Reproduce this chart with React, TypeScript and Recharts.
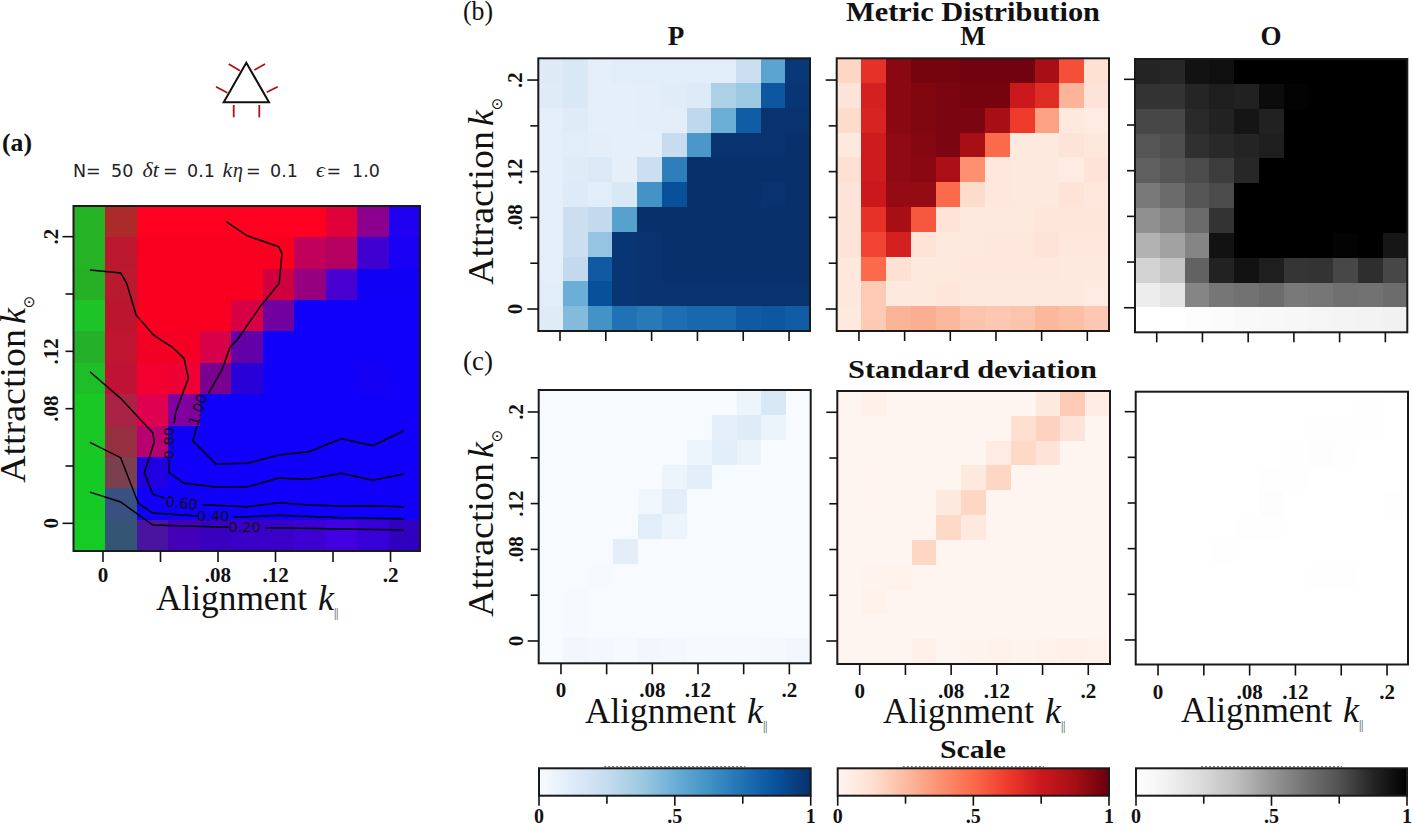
import React from "react";
import { ScatterChart, Scatter, XAxis, YAxis, ReferenceLine } from "recharts";

// ---- tick values
const kTicks = [0, 0.04, 0.08, 0.12, 0.16, 0.2];
const kTickLabels: Record<string, string> = { "0": "0", "0.08": ".08", "0.12": ".12", "0.2": ".2" };
const scaleTicks = [0, 0.25, 0.5, 0.75, 1];
const scaleLabels: Record<string, string> = { "0": "0", "0.5": ".5", "1": "1" };

// ---- panel (b) metric means, rows from the top (k=.2 side) to the bottom
const meanP = [
  [.125,.15,.09,.11,.11,.11,.11,.11,.22,.55,.97],
  [.12,.15,.09,.09,.10,.115,.13,.33,.38,.85,.98],
  [.09,.12,.09,.09,.10,.10,.27,.50,.83,.99,.99],
  [.09,.11,.10,.09,.09,.24,.60,.99,.99,.99,1],
  [.09,.12,.14,.09,.22,.70,1,1,1,1,1],
  [.09,.13,.11,.15,.62,.88,1,1,1,.99,1],
  [.09,.22,.26,.56,1,1,1,1,1,1,1],
  [.09,.22,.40,.98,.99,1,1,1,1,1,1],
  [.09,.26,.84,.98,.99,1,1,1,1,1,1],
  [.11,.50,.88,.98,.99,.99,.99,.99,.99,.99,.99],
  [.12,.44,.62,.75,.72,.76,.79,.79,.84,.85,.83],
];
const meanM = [
  [.16,.66,.93,.97,.97,.98,.98,.98,.87,.57,.12],
  [.10,.72,.93,.95,.96,.97,.97,.75,.68,.27,.10],
  [.14,.71,.93,.95,.96,.96,.87,.63,.33,.07,.06],
  [.07,.74,.92,.94,.96,.87,.50,.07,.07,.10,.08],
  [.12,.74,.92,.93,.86,.38,.08,.07,.07,.06,.10],
  [.10,.75,.91,.91,.50,.14,.08,.07,.07,.11,.08],
  [.10,.66,.87,.55,.10,.07,.07,.07,.09,.09,.09],
  [.10,.60,.72,.11,.07,.07,.08,.08,.10,.08,.08],
  [.08,.50,.12,.07,.07,.08,.08,.08,.08,.07,.07],
  [.08,.20,.07,.07,.09,.07,.07,.07,.07,.07,.06],
  [.07,.20,.27,.29,.26,.22,.21,.22,.26,.24,.21],
];
const meanO = [
  [.88,.87,.94,.95,1,1,1,1,1,1,1],
  [.835,.835,.875,.90,.89,.96,.99,1,1,1,1],
  [.78,.78,.86,.885,.93,.89,1,1,1,1,1],
  [.74,.76,.845,.865,.88,.90,1,1,1,1,1],
  [.70,.735,.77,.81,.87,1,1,1,1,1,1],
  [.605,.655,.735,.77,1,1,1,1,1,1,1],
  [.52,.57,.655,.835,1,1,1,1,1,1,1],
  [.41,.46,.56,.94,1,1,1,1,.99,1,.925],
  [.28,.34,.69,.885,.94,.90,.83,.835,.78,.85,.78],
  [.14,.185,.56,.615,.63,.65,.605,.615,.635,.63,.65],
  [0,0,.02,.03,.05,.06,.07,.08,.09,.10,.12],
];

// ---- panel (c) standard deviations
const stdP = [
  [0,0,0,0,0,0,0,0,.05,.15,0],
  [0,0,0,0,0,0,0,.09,.12,.06,0],
  [0,0,0,0,0,0,.05,.11,.06,0,0],
  [0,0,0,0,0,.05,.10,0,0,0,0],
  [0,0,0,0,.04,.10,0,0,0,0,0],
  [0,0,0,0,.11,.05,0,0,0,0,0],
  [0,0,0,.10,0,0,0,0,0,0,0],
  [0,0,.01,0,0,0,0,0,0,0,0],
  [0,.005,0,0,0,0,0,0,0,0,0],
  [0,.01,0,0,0,0,0,0,0,0,0],
  [0,.03,.02,.01,.03,.02,.005,.01,.005,.015,.03],
];
const stdM = [
  [0,.03,0,0,0,0,0,0,.07,.20,.05],
  [0,0,0,0,0,0,0,.13,.17,.10,0],
  [0,0,0,0,0,0,.06,.15,.10,0,0],
  [0,.005,0,0,0,.07,.16,0,0,0,0],
  [0,.005,0,0,.07,.16,0,0,0,0,0],
  [0,0,0,0,.15,.07,0,0,0,.005,0],
  [0,0,0,.16,0,0,0,0,0,0,0],
  [0,.01,.02,0,0,0,0,0,0,0,0],
  [0,.02,0,0,0,0,0,0,0,0,0],
  [0,0,0,0,0,0,0,0,0,0,0],
  [0,0,0,.03,0,.01,.02,.01,.02,.03,.02],
];
const stdO = [
  [0,0,0,0,0,0,0,0,.003,.005,0],
  [0,0,0,0,0,0,0,.01,.01,.006,0],
  [0,0,0,0,0,0,.007,.015,.008,0,0],
  [0,0,0,0,0,.007,.012,0,0,0,0],
  [0,0,0,0,.003,.015,0,0,0,0,.006],
  [0,0,0,0,.012,.007,0,0,0,0,.002],
  [0,0,0,.006,0,0,0,0,0,0,0],
  [0,0,0,0,0,0,0,.005,.005,0,0],
  [0,0,0,0,0,.003,0,0,0,0,.001],
  [0,0,0,0,0,0,0,.002,0,0,0],
  [0,0,0,0,0,0,0,0,0,0,0],
];

// ---- panel (a) colour channels, 0-255
const compositeR = [
  [37,173,255,255,255,255,255,255,224,140,32],
  [37,187,250,250,250,250,250,192,181,64,24],
  [37,184,250,250,250,250,208,150,72,16,16],
  [28,187,250,250,250,216,112,16,16,16,16],
  [37,192,243,245,216,100,16,16,16,16,16],
  [30,192,243,238,122,42,16,16,16,20,16],
  [25,170,224,128,16,16,16,16,16,16,16],
  [25,150,184,16,16,16,16,16,16,16,16],
  [22,122,32,16,16,16,16,16,16,16,16],
  [22,58,16,16,16,16,16,16,16,16,16],
  [20,53,74,68,58,58,58,60,64,56,48],
];
const compositeG = [
  [179,42,0,0,0,0,0,0,0,0,0],
  [179,24,0,0,0,0,0,0,0,0,0],
  [176,26,0,0,0,0,0,0,0,0,0],
  [196,21,0,0,0,0,0,0,0,0,0],
  [176,21,0,0,0,0,0,0,0,0,0],
  [190,18,0,0,0,0,0,0,0,0,0],
  [200,34,0,0,0,0,0,0,0,0,0],
  [200,48,0,0,0,0,0,0,0,0,0],
  [202,64,0,0,0,0,0,0,0,0,0],
  [202,80,0,0,0,0,0,0,0,0,0],
  [204,85,20,0,0,0,0,0,0,0,0],
];
const compositeB = [
  [37,42,32,32,32,32,32,32,58,144,240],
  [37,48,32,32,32,32,32,90,96,208,245],
  [37,48,32,32,32,32,64,128,208,245,245],
  [40,48,32,32,32,69,160,250,250,250,250],
  [42,48,37,37,72,168,250,250,250,250,250],
  [40,53,48,53,144,216,250,250,250,245,250],
  [37,69,80,160,250,250,250,250,250,250,250],
  [37,64,112,248,250,250,250,250,250,250,250],
  [37,80,224,250,250,250,250,250,250,250,250],
  [37,128,250,250,250,250,250,250,250,250,250],
  [37,117,160,184,192,200,200,208,224,216,192],
];

// ---- contours of panel (a): [k_parallel, k_attraction]
const c100a = [[.0857,.2105],[.1001,.2007],[.1222,.1930],[.1245,.1884],[.1226,.1675],[.1094,.1512],[.1045,.1442],[.0934,.1279],[.0885,.1232],[.0827,.1070],[.0734,.0907]];
const c100b = [[.0653,.0679],[.0625,.0576],[.0785,.0414],[.1006,.0419],[.1222,.0477],[.1431,.0500],[.1657,.0590],[.1877,.0542],[.2093,.0646]];
const c080a = [[-.0091,.1768],[.0123,.1747],[.0165,.1675],[.0230,.1454],[.0346,.1319],[.0404,.1279],[.0479,.1232],[.0564,.1151],[.0594,.1012],[.0507,.0779],[.0495,.0698]];
const c080b = [[.0462,.0447],[.0460,.0353],[.0564,.0279],[.0785,.0253],[.1006,.0255],[.1222,.0316],[.1431,.0307],[.1657,.0349],[.1877,.0300],[.2093,.0344]];
const c060a = [[-.0091,.1058],[.0123,.0872],[.0346,.0632],[.0357,.0569],[.0288,.0353],[.0346,.0204],[.0437,.0174]];
const c060b = [[.0692,.0130],[.1006,.0116],[.1222,.0144],[.1431,.0128],[.1657,.0121],[.1877,.0123],[.2093,.0116]];
const c040a = [[-.0091,.0565],[.0123,.0458],[.0246,.0140],[.0346,.0072],[.0657,.0051]];
const c040b = [[.0908,.0044],[.1006,.0046],[.1222,.0056],[.1657,.0039],[.2093,.0032]];
const c020a = [[-.0091,.0218],[.0123,.0149],[.0346,-.0012],[.0873,-.0028]];
const c020b = [[.1129,-.0033],[.1222,-.0031],[.1657,-.0040],[.2093,-.0047]];
const contourSegments = [c100a, c100b, c080a, c080b, c060a, c060b, c040a, c040b, c020a, c020b];
const contourLabels = [
  { x: .066, y: .0792, text: "1.00", angle: -72 },
  { x: .0462, y: .056, text: "0.80", angle: -90 },
  { x: .0548, y: .014, text: "0.60", angle: 6 },
  { x: .0767, y: .0053, text: "0.40", angle: 0 },
  { x: .0985, y: -.0028, text: "0.20", angle: 0 },
];

// ---- colour maps
const BLUES = ["#f7fbff","#deebf7","#c6dbef","#9ecae1","#6baed6","#4292c6","#2171b5","#08519c","#08306b"];
const REDS = ["#fff5f0","#fee0d2","#fcbba1","#fc9272","#fb6a4a","#ef3b2c","#cb181d","#a50f15","#67000d"];
const GREYS = ["#ffffff","#f0f0f0","#d9d9d9","#bdbdbd","#969696","#737373","#525252","#252525","#000000"];

const hex = (s: string) => [1, 3, 5].map((i) => parseInt(s.slice(i, i + 2), 16));
function cmap(stops: string[], v: number) {
  const t = Math.max(0, Math.min(1, v)) * (stops.length - 1);
  const i = Math.min(Math.floor(t), stops.length - 2);
  const a = hex(stops[i]);
  const b = hex(stops[i + 1]);
  const f = t - i;
  return `rgb(${a.map((c, j) => Math.round(c + (b[j] - c) * f)).join(",")})`;
}

const SERIF = "'Liberation Serif', serif";
const SANS = "'DejaVu Sans', sans-serif";
const INK = "#111";

type Frame = { x0: number; x1: number; y0: number; y1: number };

function Panel(props: {
  frame: Frame;
  xDomain: [number, number];
  yDomain: [number, number];
  colour: (row: number, col: number) => string;
  xLabels?: boolean;
  yLabels?: boolean;
  labelGapX: number;
  labelGapY: number;
  xTick: number;
  yMajor: number;
  yMinor: number;
  children?: React.ReactNode;
}) {
  const { frame, xDomain, yDomain, colour } = props;
  const left = Math.floor(frame.x0) - 64;
  const top = Math.floor(frame.y0) - 8;
  const width = Math.ceil(frame.x1) + 16 - left;
  const height = Math.ceil(frame.y1) + 48 - top;
  const W = frame.x1 - frame.x0;
  const H = frame.y1 - frame.y0;
  const cw = W / 11;
  const ch = H / 11;
  const cells: { x: number; y: number; color: string }[] = [];
  for (let r = 0; r < 11; r++)
    for (let c = 0; c < 11; c++)
      cells.push({
        x: xDomain[0] + ((c + 0.5) * (xDomain[1] - xDomain[0])) / 11,
        y: yDomain[1] - ((r + 0.5) * (yDomain[1] - yDomain[0])) / 11,
        color: colour(r, c),
      });
  const middle = [{ x: (xDomain[0] + xDomain[1]) / 2, y: (yDomain[0] + yDomain[1]) / 2 }];
  const xTickFn = (p: any) => (
    <g>
      <line x1={p.x} x2={p.x} y1={p.y} y2={p.y + props.xTick} stroke={INK} strokeWidth={1.6} />
      {props.xLabels && kTickLabels[String(p.payload.value)] ? (
        <text x={p.x} y={p.y + props.labelGapX} textAnchor="middle" dominantBaseline="central" fontFamily={SERIF} fontWeight={700} fontSize={21} fill={INK}>
          {kTickLabels[String(p.payload.value)]}
        </text>
      ) : null}
    </g>
  );
  const yTickFn = (p: any) => {
    const v = p.payload.value;
    const len = v === 0 || v === 0.2 ? props.yMajor : props.yMinor;
    const label = kTickLabels[String(v)];
    return (
      <g>
        <line x1={p.x - len} x2={p.x} y1={p.y} y2={p.y} stroke={INK} strokeWidth={1.6} />
        {props.yLabels && label ? (
          <text transform={`translate(${p.x - props.labelGapY},${p.y}) rotate(-90)`} textAnchor="middle" dominantBaseline="central" fontFamily={SERIF} fontWeight={700} fontSize={21} fill={INK}>
            {label}
          </text>
        ) : null}
      </g>
    );
  };
  return (
    <div style={{ position: "absolute", left, top, width, height }}>
      <ScatterChart
        width={width}
        height={height}
        margin={{ left: 0, top: frame.y0 - top, right: left + width - frame.x1, bottom: 0 }}
      >
        <XAxis dataKey="x" type="number" domain={xDomain} ticks={kTicks} interval={0} height={top + height - frame.y1} tickLine={false} tickSize={0} tickMargin={0} tick={xTickFn} axisLine={false} />
        <YAxis dataKey="y" type="number" domain={yDomain} ticks={kTicks} interval={0} width={frame.x0 - left} tickLine={false} tickSize={0} tickMargin={0} tick={yTickFn} axisLine={false} />
        <Scatter
          data={cells}
          isAnimationActive={false}
          shape={(p: any) => (
            <rect x={p.cx - cw / 2} y={p.cy - ch / 2} width={cw + 0.02} height={ch + 0.02} fill={p.payload.color} shapeRendering="crispEdges" />
          )}
        />
        {props.children}
        <Scatter
          data={middle}
          isAnimationActive={false}
          shape={(p: any) => (
            <rect x={p.cx - W / 2} y={p.cy - H / 2} width={W} height={H} fill="none" stroke="#1a1a1a" strokeWidth={2} />
          )}
        />
      </ScatterChart>
    </div>
  );
}

const barCentre = [{ x: 0.5, y: 0.5 }];

function ScaleBar(props: { x0: number; x1: number; id: string; stops: string[] }) {
  const { x0, x1, id, stops } = props;
  const y0 = 768.3;
  const y1 = 795.7;
  const left = Math.floor(x0) - 12;
  const top = 760;
  const width = Math.ceil(x1) + 12 - left;
  const height = 827 - top;
  const W = x1 - x0;
  const H = y1 - y0;
  const tickFn = (p: any) => {
    const label = scaleLabels[String(p.payload.value)];
    return (
      <g>
        <line x1={p.x} x2={p.x} y1={p.y} y2={p.y + (label ? 10 : 8)} stroke={INK} strokeWidth={1.6} />
        {label ? (
          <text x={p.x} y={p.y + 27} textAnchor="middle" fontFamily={SERIF} fontWeight={700} fontSize={20} fill={INK}>
            {label}
          </text>
        ) : null}
      </g>
    );
  };
  return (
    <div style={{ position: "absolute", left, top, width, height }}>
      <ScatterChart width={width} height={height} margin={{ left: 0, top: y0 - top, right: left + width - x1, bottom: 0 }}>
        <defs>
          <linearGradient id={id} x1="0" x2="1" y1="0" y2="0">
            {stops.map((s, i) => (
              <stop key={s} offset={i / (stops.length - 1)} stopColor={s} />
            ))}
          </linearGradient>
        </defs>
        <XAxis dataKey="x" type="number" domain={[0, 1]} ticks={scaleTicks} interval={0} height={top + height - y1} tickLine={false} tickSize={0} tickMargin={0} tick={tickFn} axisLine={false} />
        <YAxis dataKey="y" type="number" domain={[0, 1]} width={x0 - left} tick={false} tickLine={false} axisLine={false} />
        <Scatter
          data={barCentre}
          isAnimationActive={false}
          shape={(p: any) => (
            <rect x={p.cx - W / 2} y={p.cy - H / 2} width={W} height={H} fill={`url(#${id})`} stroke="#1a1a1a" strokeWidth={2} />
          )}
        />
        <ReferenceLine segment={[{ x: 0.24, y: 1.06 }, { x: 0.76, y: 1.06 }]} ifOverflow="visible" stroke="#555" strokeWidth={1} strokeDasharray="2 2" />
      </ScatterChart>
    </div>
  );
}

function Attraction({ x, y }: { x: number; y: number }) {
  return (
    <g fill={INK} fontFamily={SERIF}>
      <text transform={`translate(${x},${y}) rotate(-90)`} fontSize={36} textLength={154} lengthAdjust="spacingAndGlyphs">Attraction</text>
      <text transform={`translate(${x},${y - 159}) rotate(-90)`} fontSize={36} fontStyle="italic">k</text>
      <text transform={`translate(${x + 4},${y - 181}) rotate(-90)`} fontSize={15} fontFamily={SANS} textAnchor="middle" dominantBaseline="central">⊙</text>
    </g>
  );
}
function Alignment({ x, y }: { x: number; y: number }) {
  return (
    <g fill={INK} fontFamily={SERIF}>
      <text x={x} y={y} fontSize={36} textLength={151} lengthAdjust="spacingAndGlyphs">Alignment</text>
      <text x={x + 162} y={y} fontSize={36} fontStyle="italic">k</text>
      <text x={x + 180} y={y + 7} fontSize={12} textAnchor="middle" letterSpacing={-0.5} style={{ opacity: 0.85 }}>||</text>
    </g>
  );
}
function Bold({ x, y, size, w, anchor, children }: any) {
  return (
    <text x={x} y={y} fontSize={size} fontWeight={700} fontFamily={SERIF} fill={INK} textAnchor={anchor ?? "start"} textLength={w} lengthAdjust={w ? "spacingAndGlyphs" : undefined}>
      {children}
    </text>
  );
}

const contourLine = { stroke: "#000", strokeWidth: 1.5, fill: "none" };

export default function App() {
  const common = { xTick: 10, yMajor: 11, yMinor: 8, labelGapX: 27, labelGapY: 23 };
  return (
    <div style={{ position: "absolute", left: 0, top: 0, width: 1412, height: 827, overflow: "hidden", background: "#fff" }}>
      <Panel
        {...common}
        labelGapX={24}
        labelGapY={22.5}
        xTick={11}
        frame={{ x0: 73.5, x1: 420, y0: 206, y1: 551 }}
        xDomain={[-0.0205, 0.2205]}
        yDomain={[-0.0193, 0.2214]}
        colour={(r, c) => `rgb(${compositeR[r][c]},${compositeG[r][c]},${compositeB[r][c]})`}
        xLabels
        yLabels
      >
        {contourSegments.map((seg, i) => (
          <Scatter
            key={i}
            data={seg.map(([x, y]) => ({ x, y }))}
            line={contourLine}
            lineType="joint"
            isAnimationActive={false}
            shape={() => <g />}
          />
        ))}
        <Scatter
          data={contourLabels}
          isAnimationActive={false}
          shape={(p: any) => (
            <text transform={`translate(${p.cx},${p.cy}) rotate(${p.payload.angle})`} textAnchor="middle" dominantBaseline="central" fontFamily={SANS} fontSize={14.5} fill="#111">
              {p.payload.text}
            </text>
          )}
        />
      </Panel>

      <Panel {...common} frame={{ x0: 538.3, x1: 810, y0: 58.3, y1: 331 }} xDomain={[-0.01895, 0.2183]} yDomain={[-0.0192, 0.219]} colour={(r, c) => cmap(BLUES, meanP[r][c])} yLabels />
      <Panel {...common} frame={{ x0: 836.7, x1: 1109, y0: 58.3, y1: 331 }} xDomain={[-0.0195, 0.219]} yDomain={[-0.0192, 0.219]} colour={(r, c) => cmap(REDS, meanM[r][c])} />
      <Panel {...common} frame={{ x0: 1135, x1: 1407.3, y0: 59, y1: 332.3 }} xDomain={[-0.019, 0.2192]} yDomain={[-0.0215, 0.2178]} colour={(r, c) => cmap(GREYS, meanO[r][c])} />

      <Panel {...common} xTick={11} frame={{ x0: 538.7, x1: 810.7, y0: 390, y1: 663.3 }} xDomain={[-0.0195, 0.2187]} yDomain={[-0.0195, 0.2192]} colour={(r, c) => cmap(BLUES, stdP[r][c])} xLabels yLabels />
      <Panel {...common} xTick={11} frame={{ x0: 837.3, x1: 1110, y0: 391, y1: 664 }} xDomain={[-0.0196, 0.219]} yDomain={[-0.0201, 0.2186]} colour={(r, c) => cmap(REDS, stdM[r][c])} xLabels />
      <Panel {...common} xTick={11} frame={{ x0: 1135.7, x1: 1408, y0: 391.7, y1: 664.5 }} xDomain={[-0.0195, 0.2183]} yDomain={[-0.0215, 0.2175]} colour={(r, c) => cmap(GREYS, stdO[r][c])} xLabels />

      <ScaleBar x0={539} x1={810.7} id="scaleBlues" stops={BLUES} />
      <ScaleBar x0={837.7} x1={1109} id="scaleReds" stops={REDS} />
      <ScaleBar x0={1136} x1={1407} id="scaleGreys" stops={GREYS} />

      <svg width={1412} height={827} style={{ position: "absolute", left: 0, top: 0, pointerEvents: "none" }}>
        {/* icon */}
        <g stroke="#b01010" strokeWidth={1.8}>
          <line x1={228.7} y1={64} x2={240} y2={70.7} />
          <line x1={265} y1={64} x2={254.3} y2={70} />
          <line x1={216} y1={86.7} x2={227.3} y2={92.7} />
          <line x1={277.7} y1={86.7} x2={266.7} y2={92.3} />
          <line x1={233.7} y1={105} x2={233.7} y2={117.3} />
          <line x1={259.3} y1={105} x2={259.3} y2={117.3} />
        </g>
        <polygon points="246.3,62.7 223.7,102.3 269,102.3" fill="none" stroke="#111" strokeWidth={2} />

        {/* panel letters */}
        <Bold x={2} y={151} size={26} w={30}>(a)</Bold>
        <text x={463} y={20} fontSize={27} fontFamily={SERIF} fill={INK} textLength={30} lengthAdjust="spacingAndGlyphs">(b)</text>
        <text x={463} y={370} fontSize={27} fontFamily={SERIF} fill={INK} textLength={30} lengthAdjust="spacingAndGlyphs">(c)</text>

        {/* panel (a) parameters */}
        <g fontFamily={SANS} fontSize={17.5} fill="#222">
          <text x={73} y={176.7}>N=</text>
          <text x={111} y={176.7}>50</text>
          <text x={142.5} y={176.7} fontFamily={SERIF} fontStyle="italic" fontSize={22}>δt</text>
          <text x={163} y={176.7}>=</text>
          <text x={187} y={176.7}>0.1</text>
          <text x={222.5} y={176.7} fontFamily={SERIF} fontStyle="italic" fontSize={22}>k</text>
          <text x={233} y={176.7} fontFamily={SERIF} fontStyle="italic" fontSize={20}>η</text>
          <text x={246} y={176.7}>=</text>
          <text x={270} y={176.7}>0.1</text>
          <text x={316} y={176.7} fontFamily={SERIF} fontStyle="italic" fontSize={22}>ϵ</text>
          <text x={326.5} y={176.7}>=</text>
          <text x={352} y={176.7}>1.0</text>
        </g>

        {/* titles */}
        <Bold x={846} y={20.7} size={27} w={254}>Metric Distribution</Bold>
        <Bold x={676} y={45} size={27} anchor="middle">P</Bold>
        <Bold x={973} y={45} size={27} anchor="middle">M</Bold>
        <Bold x={1271} y={45} size={27} anchor="middle">O</Bold>
        <Bold x={848} y={378} size={25} w={249}>Standard deviation</Bold>
        <Bold x={940} y={758} size={25} w={66}>Scale</Bold>

        {/* axis names */}
        <Attraction x={25} y={483} />
        <Attraction x={493} y={285} />
        <Attraction x={493} y={617} />
        <Alignment x={156} y={610} />
        <Alignment x={585} y={723} />
        <Alignment x={883} y={723} />
        <Alignment x={1181} y={722} />
      </svg>
    </div>
  );
}
